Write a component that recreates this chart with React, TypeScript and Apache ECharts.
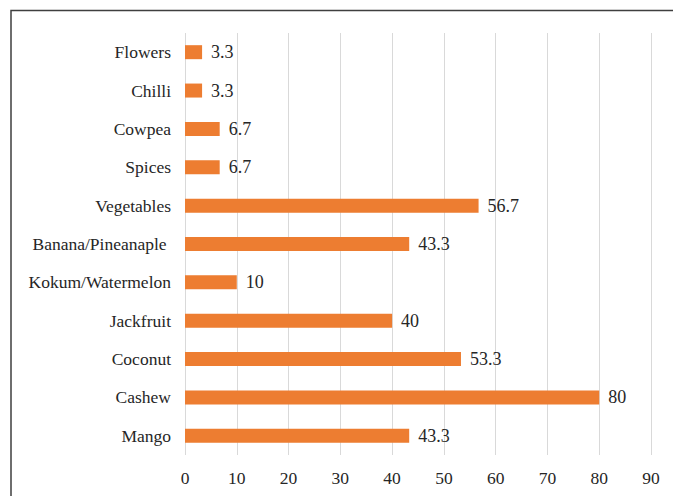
import React, { useEffect, useRef } from "react";
import * as echarts from "echarts";

// Crops, bottom to top along the category axis
const categories: string[] = [
  "Mango",
  "Cashew",
  "Coconut",
  "Jackfruit",
  "Kokum/Watermelon",
  "Banana/Pineanaple ",
  "Vegetables",
  "Spices",
  "Cowpea",
  "Chilli",
  "Flowers",
];

// Share of respondents (%) per crop
const shares: number[] = [43.3, 80, 53.3, 40, 10, 43.3, 56.7, 6.7, 6.7, 3.3, 3.3];

const axisMin = 0;
const axisMax = 90;
const axisStep = 10;

const FONT = "Liberation Serif";
const TEXT_COLOR = "#262626";

export default function App() {
  const ref = useRef<HTMLDivElement>(null);

  useEffect(() => {
    if (!ref.current) return;
    const chart = echarts.init(ref.current, undefined, { renderer: "svg" });
    chart.setOption({
      animation: false,
      backgroundColor: "#ffffff",
      textStyle: { fontFamily: FONT },
      grid: { left: 185, right: 22, top: 33, bottom: 41, containLabel: false },
      xAxis: {
        type: "value",
        min: axisMin,
        max: axisMax,
        interval: axisStep,
        axisLine: { show: false },
        axisTick: { show: false },
        axisLabel: {
          color: TEXT_COLOR,
          fontFamily: FONT,
          fontSize: 17.5,
          margin: 14,
        },
        splitLine: { show: true, lineStyle: { color: "#d9d9d9", width: 1 } },
      },
      yAxis: {
        type: "category",
        data: categories,
        axisLine: { show: false },
        axisTick: { show: false },
        axisLabel: {
          color: TEXT_COLOR,
          fontFamily: FONT,
          fontSize: 17.5,
          margin: 14,
        },
        splitLine: { show: false },
      },
      series: [
        {
          type: "bar",
          data: shares,
          barWidth: 14,
          itemStyle: { color: "#ED7D31" },
          label: {
            show: true,
            position: "right",
            distance: 9,
            color: TEXT_COLOR,
            fontFamily: FONT,
            fontSize: 18,
          },
        },
      ],
      graphic: [
        {
          type: "rect",
          shape: { x: 11, y: 10.5, width: 700, height: 600 },
          style: { fill: "none", stroke: "#3f3f3f", lineWidth: 1.5 },
          silent: true,
        },
      ],
    });
    return () => chart.dispose();
  }, []);

  return (
    <div
      ref={ref}
      style={{ position: "fixed", left: 0, top: 0, width: 673, height: 496 }}
    />
  );
}
